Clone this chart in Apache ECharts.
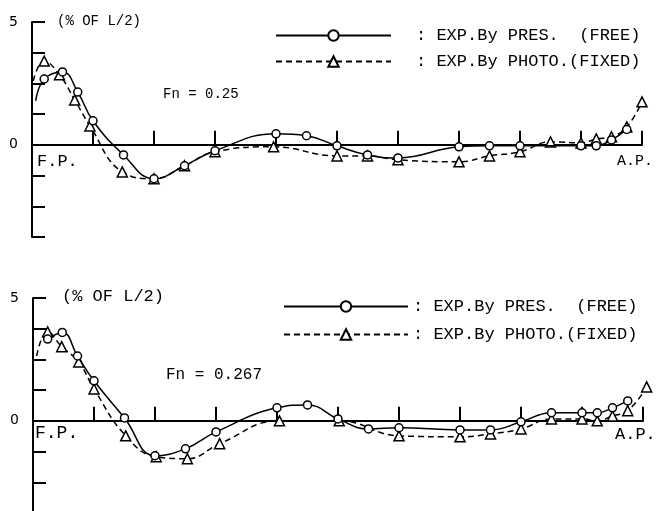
<!DOCTYPE html>
<html><head><meta charset="utf-8">
<script src="https://cdn.jsdelivr.net/npm/echarts@6/dist/echarts.min.js"></script>
<style>html,body{margin:0;padding:0;background:#fff}#c{width:657px;height:511px}</style>
</head><body><div id="c"></div>
<script>
// x in stations (F.P. = 0 ... A.P. = 10), y in % of L/2
// Panel 1 : Fn = 0.25
const topFreeLead = [0.06, 1.79];
const topFreeX = [0.2, 0.5, 0.75, 1.0, 1.5, 2.0, 2.5, 3.0, 4.0, 4.5, 5.0, 5.5, 6.0, 7.0, 7.5, 8.0, 9.0, 9.25, 9.5, 9.75];
const topFreeY = [2.68, 2.97, 2.15, 0.98, -0.41, -1.38, -0.85, -0.24, 0.45, 0.37, -0.04, -0.41, -0.53, -0.08, -0.04, -0.04, -0.04, -0.04, 0.2, 0.63];
const topPhotoLead = [0.02, 2.6];
const topPhotoX = [0.2, 0.45, 0.7, 0.95, 1.48, 2.0, 2.5, 3.0, 3.96, 5.0, 5.5, 6.0, 7.0, 7.5, 8.0, 8.5, 9.0, 9.25, 9.5, 9.75, 10.0];
const topPhotoY = [3.41, 2.85, 1.83, 0.77, -1.10, -1.38, -0.85, -0.28, -0.08, -0.45, -0.45, -0.61, -0.69, -0.45, -0.28, 0.12, 0.08, 0.24, 0.33, 0.73, 1.75];
// Panel 2 : Fn = 0.267
const botFreeX = [0.24, 0.48, 0.73, 1.0, 1.5, 2.0, 2.5, 3.0, 4.0, 4.5, 5.0, 5.5, 6.0, 7.0, 7.5, 8.0, 8.5, 9.0, 9.25, 9.5, 9.75];
const botFreeY = [3.33, 3.6, 2.64, 1.63, 0.12, -1.42, -1.14, -0.45, 0.53, 0.65, 0.08, -0.33, -0.28, -0.37, -0.37, -0.04, 0.33, 0.33, 0.33, 0.53, 0.81];
const botPhotoLead = [0.06, 2.64];
const botPhotoX = [0.24, 0.47, 0.75, 1.0, 1.52, 2.02, 2.53, 3.06, 4.04, 5.02, 6.0, 7.0, 7.5, 8.0, 8.5, 9.0, 9.25, 9.5, 9.75, 10.06];
const botPhotoY = [3.62, 3.02, 2.4, 1.3, -0.61, -1.46, -1.54, -0.93, 0.0, 0.0, -0.61, -0.65, -0.53, -0.33, 0.08, 0.08, 0.0, 0.2, 0.41, 1.38];

const yTickLabels = ['0', '5'];
const legendFree = ': EXP.By PRES.  (FREE)';
const legendPhoto = ': EXP.By PHOTO.(FIXED)';
const unitText = '(% OF L/2)';
const fnTop = 'Fn = 0.25';
const fnBot = 'Fn = 0.267';

function pts(lead, xs, ys) {
  const out = [];
  if (lead) out.push({ value: lead, symbol: 'none' });
  xs.forEach((x, i) => out.push([x, ys[i]]));
  return out;
}
const MONO = 'Liberation Mono';
function mkX(gi) {
  return {
    type: 'value', gridIndex: gi, min: 0, max: 10, interval: 1,
    axisLine: { onZero: true, lineStyle: { color: '#000', width: 2 } },
    axisTick: { show: true, inside: true, length: 14, lineStyle: { color: '#000', width: 2 } },
    axisLabel: { show: false }, splitLine: { show: false }
  };
}
function mkY(gi) {
  return {
    type: 'value', gridIndex: gi, min: -3.75, max: 5, interval: 1.25,
    axisLine: { show: true, lineStyle: { color: '#000', width: 2 } },
    axisTick: { show: true, inside: true, length: 13, lineStyle: { color: '#000', width: 2 } },
    axisLabel: {
      show: true, margin: 14, color: '#000', fontSize: 14, fontFamily: 'DejaVu Sans',
      formatter: v => (v === 0 ? yTickLabels[0] : (v === 5 ? yTickLabels[1] : ''))
    },
    splitLine: { show: false }
  };
}
function mkSeries(name, gi, data, dashed, sym) {
  return {
    name, type: 'line', xAxisIndex: gi, yAxisIndex: gi, data, smooth: 0.45, clip: false,
    symbol: sym, symbolSize: sym === 'circle' ? 8 : 10,
    lineStyle: { color: '#000', width: 1.5, type: dashed ? [6, 4] : 'solid' },
    itemStyle: { color: '#fff', borderColor: '#000', borderWidth: 1.5 },
    emphasis: { disabled: true }, z: dashed ? 3 : 4
  };
}
const names = { tf: legendFree, tp: legendPhoto, bf: legendFree, bp: legendPhoto };
function mkLegend(name, left, top, w, pad) {
  return {
    data: [name], left, top, itemWidth: w, itemHeight: 13, selectedMode: false,
    formatter: n => names[n],
    textStyle: { fontFamily: MONO, fontSize: 17, color: '#000', padding: [0, 0, 0, pad] }
  };
}
function txt(text, left, top, size) {
  return { type: 'text', left, top, style: { text, font: size + 'px "' + MONO + '"', fill: '#000' } };
}
const chart = echarts.init(document.getElementById('c'), null, { renderer: 'canvas' });
chart.setOption({
  animation: false,
  backgroundColor: '#fff',
  grid: [
    { left: 32, top: 22, width: 610, height: 215, outerBoundsMode: 'none', containLabel: false },
    { left: 33, top: 298, width: 610, height: 215, outerBoundsMode: 'none', containLabel: false }
  ],
  xAxis: [mkX(0), mkX(1)],
  yAxis: [mkY(0), mkY(1)],
  legend: [
    mkLegend('tf', 270, 22, 115, 20),
    mkLegend('tp', 270, 48, 115, 20),
    mkLegend('bf', 278, 293, 124, 0),
    mkLegend('bp', 278, 321, 124, 0)
  ],
  series: [
    mkSeries('tf', 0, pts(topFreeLead, topFreeX, topFreeY), false, 'circle'),
    mkSeries('tp', 0, pts(topPhotoLead, topPhotoX, topPhotoY), true, 'triangle'),
    mkSeries('bf', 1, pts(null, botFreeX, botFreeY), false, 'circle'),
    mkSeries('bp', 1, pts(botPhotoLead, botPhotoX, botPhotoY), true, 'triangle')
  ],
  graphic: [
    txt(unitText, 57, 14, 14),
    txt(fnTop, 163, 87, 14),
    txt('F.P.', 37, 153, 17),
    txt('A.P.', 617, 154, 15),
    txt(unitText, 62, 288, 17),
    txt(fnBot, 166, 367, 16),
    txt('F.P.', 35, 424, 18),
    txt('A.P.', 615, 426, 17)
  ]
});
</script></body></html>
